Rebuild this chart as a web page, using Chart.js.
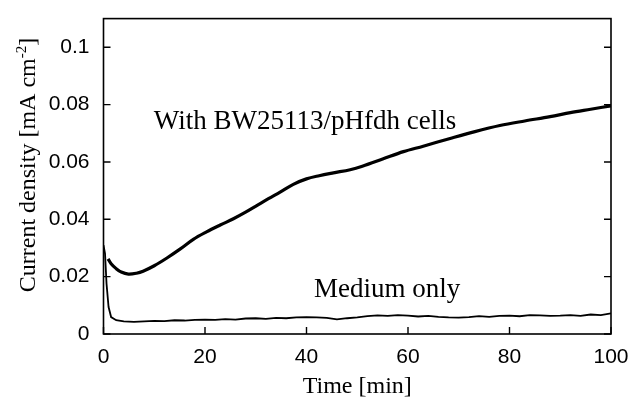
<!DOCTYPE html>
<html>
<head>
<meta charset="utf-8">
<script src="https://cdn.jsdelivr.net/npm/chart.js@4/dist/chart.umd.min.js"></script>
<style>
  html, body { margin: 0; padding: 0; background: #fff; }
  #wrap { width: 642px; height: 399px; position: relative; }
</style>
</head>
<body>
<div id="wrap"><canvas id="c" width="642" height="399"></canvas></div>
<script>
// ---- data ----
const cellTimes = [0.9, 1.5, 2.5, 3.5, 4.9, 6.5, 7.8, 10, 12.5, 15, 17.7, 20.3, 23, 25.6, 28, 30.2, 32.5, 34.8, 37.4, 40, 42.5, 45.3, 48.6, 51, 55, 59.1, 63, 68.3, 73, 78.1, 83, 88, 92, 96, 100];
const cellValues = [0.0262, 0.0245, 0.0228, 0.0216, 0.0209, 0.0212, 0.0219, 0.0238, 0.0265, 0.0295, 0.0330, 0.0356, 0.0380, 0.0402, 0.0425, 0.0448, 0.0472, 0.0495, 0.0522, 0.0541, 0.0552, 0.0562, 0.0573, 0.0585, 0.0610, 0.0636, 0.0655, 0.0682, 0.0705, 0.0727, 0.0743, 0.0758, 0.0772, 0.0784, 0.0796];

const mediumTimes = [0, 0.3, 0.6, 1.0, 1.5, 2.5, 4, 6, 8, 10, 12, 14, 16, 18, 20, 22, 24, 26, 28, 30, 32, 34, 36, 38, 40, 42, 44, 46, 48, 50, 52, 54, 56, 58, 60, 62, 64, 66, 68, 70, 72, 74, 76, 78, 80, 82, 84, 86, 88, 90, 92, 94, 96, 98, 100];
const mediumValues = [0.0310, 0.0280, 0.0175, 0.0094, 0.0059, 0.0048, 0.0044, 0.0042, 0.0044, 0.0046, 0.0045, 0.0048, 0.0047, 0.0049, 0.0050, 0.0049, 0.0052, 0.0050, 0.0054, 0.0055, 0.0053, 0.0056, 0.0055, 0.0058, 0.0059, 0.0058, 0.0056, 0.0051, 0.0055, 0.0058, 0.0062, 0.0065, 0.0063, 0.0066, 0.0064, 0.0061, 0.0063, 0.0060, 0.0058, 0.0057, 0.0059, 0.0062, 0.0060, 0.0063, 0.0064, 0.0062, 0.0066, 0.0065, 0.0063, 0.0064, 0.0066, 0.0063, 0.0068, 0.0066, 0.0072];

const xTickValues = [0, 20, 40, 60, 80, 100];
const xTickLabels = ['0', '20', '40', '60', '80', '100'];
const yTickValues = [0, 0.02, 0.04, 0.06, 0.08, 0.1];
const yTickLabels = ['0', '0.02', '0.04', '0.06', '0.08', '0.1'];

const seriesNames = ['With BW25113/pHfdh cells', 'Medium only'];
const xTitle = 'Time [min]';
const yTitleParts = ['Current density [mA cm', '-2', ']'];
// annotation anchor points (data coordinates)
const annotX = [39.7, 55.9];
const annotY = [0.0716, 0.0128];

const toPts = (xs, ys) => xs.map((x, i) => ({ x: x, y: ys[i] }));
const SERIF = '"Liberation Serif", "Times New Roman", serif';

const frameAndTicks = {
  id: 'frameAndTicks',
  afterDraw(chart) {
    const { ctx, chartArea: a, scales } = chart;
    const xs = scales.x, ys = scales.y;
    ctx.save();
    ctx.strokeStyle = '#000';
    ctx.lineWidth = 1.6;
    ctx.strokeRect(a.left, a.top, a.right - a.left, a.bottom - a.top);
    ctx.lineWidth = 1.4;
    const L = 7;
    ctx.beginPath();
    xTickValues.forEach(v => {
      const px = xs.getPixelForValue(v);
      ctx.moveTo(px, a.bottom); ctx.lineTo(px, a.bottom - L);
    });
    yTickValues.forEach(v => {
      const py = ys.getPixelForValue(v);
      ctx.moveTo(a.left, py); ctx.lineTo(a.left + L, py);
      ctx.moveTo(a.right, py); ctx.lineTo(a.right - L, py);
    });
    ctx.stroke();
    // series annotations
    ctx.fillStyle = '#000';
    ctx.font = '27px ' + SERIF;
    ctx.textAlign = 'center';
    ctx.textBaseline = 'alphabetic';
    seriesNames.forEach((n, i) => {
      ctx.fillText(n, xs.getPixelForValue(annotX[i]), ys.getPixelForValue(annotY[i]));
    });
    // y-axis title with superscript
    const big = '24px ' + SERIF, small = '15px ' + SERIF;
    ctx.font = big; const w0 = ctx.measureText(yTitleParts[0]).width;
    const w2 = ctx.measureText(yTitleParts[2]).width;
    ctx.font = small; const w1 = ctx.measureText(yTitleParts[1]).width;
    const total = w0 + w1 + w2;
    const cy = 165, bx = 35;
    ctx.translate(bx, cy);
    ctx.rotate(-Math.PI / 2);
    ctx.textAlign = 'left';
    ctx.textBaseline = 'alphabetic';
    let x0 = -total / 2;
    ctx.font = big; ctx.fillText(yTitleParts[0], x0, 0); x0 += w0;
    ctx.font = small; ctx.fillText(yTitleParts[1], x0, -9); x0 += w1;
    ctx.font = big; ctx.fillText(yTitleParts[2], x0, 0);
    ctx.restore();
  }
};

new Chart(document.getElementById('c'), {
  type: 'scatter',
  data: {
    datasets: [
      {
        label: seriesNames[0],
        data: toPts(cellTimes, cellValues),
        showLine: true,
        borderColor: '#000',
        borderWidth: 3.2,
        pointRadius: 0,
        tension: 0.35,
        fill: false
      },
      {
        label: seriesNames[1],
        data: toPts(mediumTimes, mediumValues),
        showLine: true,
        borderColor: '#000',
        borderWidth: 1.8,
        pointRadius: 0,
        tension: 0,
        fill: false
      }
    ]
  },
  options: {
    responsive: false,
    animation: false,
    layout: { padding: { top: 13, right: 31, bottom: 0, left: 0 } },
    plugins: { legend: { display: false }, tooltip: { enabled: false } },
    scales: {
      x: {
        type: 'linear', min: 0, max: 100,
        grid: { display: false },
        border: { display: false },
        afterBuildTicks: s => { s.ticks = xTickValues.map(v => ({ value: v })); },
        afterFit: s => { s.height = 65; },
        ticks: {
          color: '#000', padding: 3, maxRotation: 0,
          font: { family: '"Liberation Sans", Arial, sans-serif', size: 21 },
          callback: (v) => xTickLabels[xTickValues.indexOf(v)]
        },
        title: {
          display: true, text: xTitle, color: '#000',
          font: { family: SERIF, size: 24, lineHeight: 1 },
          padding: { top: 0, bottom: 0 }
        }
      },
      y: {
        type: 'linear', min: 0, max: 0.11,
        grid: { display: false },
        border: { display: false },
        afterBuildTicks: s => { s.ticks = yTickValues.map(v => ({ value: v })); },
        afterFit: s => { s.width = 103.5; },
        ticks: {
          color: '#000', padding: 6,
          font: { family: '"Liberation Sans", Arial, sans-serif', size: 21 },
          callback: (v) => yTickLabels[yTickValues.indexOf(v)]
        },
        title: { display: false }
      }
    }
  },
  plugins: [frameAndTicks]
});
</script>
</body>
</html>
